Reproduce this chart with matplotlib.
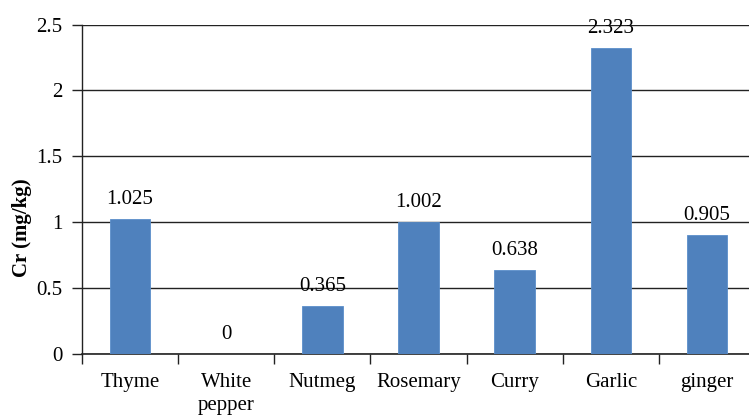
import matplotlib
matplotlib.use("Agg")
import matplotlib.pyplot as plt

categories = ["Thyme", "White\npepper", "Nutmeg", "Rosemary", "Curry", "Garlic", "ginger"]
values = [1.025, 0, 0.365, 1.002, 0.638, 2.323, 0.905]
value_labels = ["1.025", "0", "0.365", "1.002", "0.638", "2.323", "0.905"]
yticks = [0, 0.5, 1, 1.5, 2, 2.5]
ytick_labels = ["0", "0.5", "1", "1.5", "2", "2.5"]

plt.rcParams["font.family"] = ["Liberation Serif", "DejaVu Serif"]
FS = 15

W, H = 749, 417
fig = plt.figure(figsize=(W / 100, H / 100), dpi=100)
left, right, top, bottom = 82, 755, 24.5, 354
ax = fig.add_axes([left / W, 1 - bottom / H, (right - left) / W, (bottom - top) / H])

x = list(range(len(categories)))
ax.bar(x, values, width=0.42, color="#4F81BD", edgecolor="#5B8FCB", linewidth=0.6, zorder=3)

ax.set_xlim(-0.5, len(categories) - 0.5)
ax.set_ylim(0, 2.5)
ax.set_yticks(yticks)
ax.set_yticklabels(ytick_labels, fontsize=FS)
ax.yaxis.grid(True, color="#222222", linewidth=1.0, zorder=0)
ax.set_axisbelow(True)

ax.set_xticks(x)
ax.set_xticklabels(categories, fontsize=FS, linespacing=1.25, va="top")
ax.tick_params(axis="x", length=0, pad=14)
ax.set_xticks([i - 0.5 for i in range(len(categories) + 1)], minor=True)
ax.tick_params(axis="x", which="minor", length=7, width=1.0, color="#222222", direction="out")
ax.tick_params(axis="y", length=7, width=1.0, color="#222222", direction="out", pad=7)

for s in ["top", "right"]:
    ax.spines[s].set_visible(False)
ax.spines["left"].set_color("#222222")
ax.spines["bottom"].set_color("#222222")
ax.spines["left"].set_linewidth(1.0)
ax.spines["bottom"].set_linewidth(1.2)

for xi, v, lab in zip(x, values, value_labels):
    ax.annotate(lab, (xi, v), xytext=(0, 7), textcoords="offset points",
                ha="center", va="bottom", fontsize=FS, zorder=4)

fig.text(22 / W, 1 - 228 / H, "Cr (mg/kg)", rotation=90, fontsize=FS, fontweight="bold",
         ha="center", va="center")

fig.savefig("out.png", dpi=100)
